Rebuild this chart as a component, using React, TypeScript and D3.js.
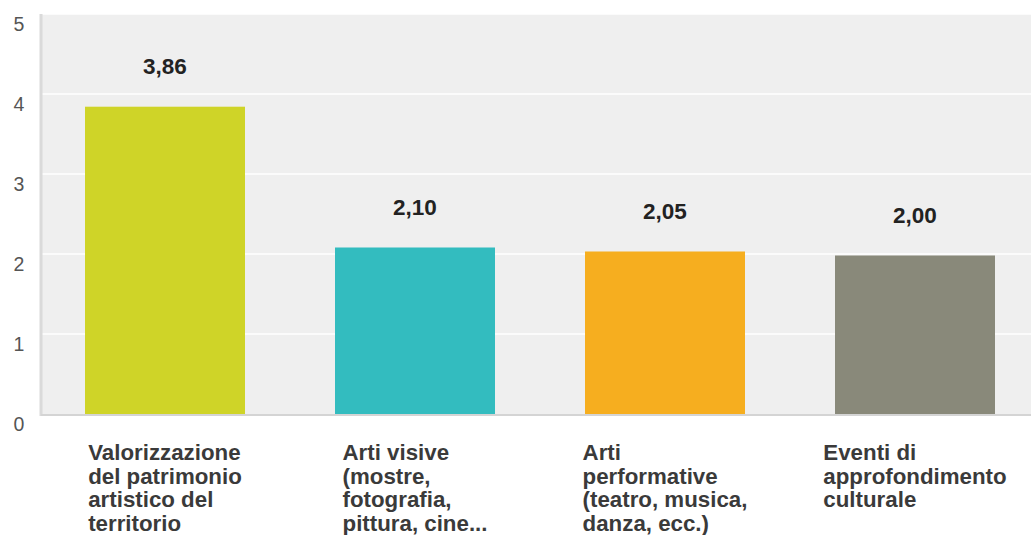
import React from "react";
import * as d3 from "d3";

const categories = [
  ["Valorizzazione", "del patrimonio", "artistico del", "territorio"],
  ["Arti visive", "(mostre,", "fotografia,", "pittura, cine..."],
  ["Arti", "performative", "(teatro, musica,", "danza, ecc.)"],
  ["Eventi di", "approfondimento", "culturale"],
];
const values = [3.86, 2.1, 2.05, 2.0];
const barColors = ["#cfd428", "#33bcbf", "#f6ae1f", "#89897a"];
const yTicks = [0, 1, 2, 3, 4, 5];

const W = 1031;
const H = 535;
const plotLeft = 41;
const plotTop = 14;
const plotBottom = 414;
const plotRight = 1040;
const font = "'Liberation Sans', Arial, sans-serif";
const labelSize = 22.3;

// width of the widest line of a wrapped category label
function blockWidth(lines: string[]): number {
  const ctx = document.createElement("canvas").getContext("2d");
  if (!ctx) return 150;
  ctx.font = `bold ${labelSize}px ${font}`;
  return d3.max(lines, (l) => ctx.measureText(l).width) ?? 0;
}

export default function App() {
  const x = d3
    .scaleBand<number>()
    .domain(values.map((_, i) => i))
    .range([plotLeft - 1, plotRight])
    .paddingInner(0.36)
    .paddingOuter(0.18);
  const y = d3.scaleLinear().domain([0, 5]).range([plotBottom, plotTop]);
  const fmt = (v: number) => d3.format(".2f")(v).replace(".", ",");
  const barShift = 1.5;

  return (
    <svg
      width={W}
      height={H}
      style={{ position: "absolute", left: 0, top: 0, display: "block" }}
      fontFamily={font}
    >
      <rect x={0} y={0} width={W} height={H} fill="#ffffff" />
      <rect
        x={plotLeft}
        y={plotTop}
        width={plotRight - plotLeft}
        height={plotBottom - plotTop}
        fill="#efefef"
      />
      {yTicks.slice(1).map((t) => (
        <line
          key={t}
          x1={plotLeft}
          x2={plotRight}
          y1={y(t)}
          y2={y(t)}
          stroke="#ffffff"
          strokeWidth={1.5}
        />
      ))}
      {values.map((v, i) => (
        <rect
          key={i}
          x={x(i)!}
          y={y(v) + barShift}
          width={x.bandwidth()}
          height={y(0) - y(v)}
          fill={barColors[i]}
        />
      ))}
      {/* axes */}
      <line x1={plotLeft} x2={plotLeft} y1={plotTop} y2={plotBottom + 2} stroke="#dadada" strokeWidth={3} />
      <line x1={plotLeft} x2={plotRight} y1={plotBottom + 1} y2={plotBottom + 1} stroke="#d4d4d4" strokeWidth={2} />
      {yTicks.map((t) => (
        <text
          key={t}
          x={19}
          y={y(t) + 17}
          textAnchor="middle"
          fontSize={19.5}
          fill="#555"
        >
          {t}
        </text>
      ))}
      {values.map((v, i) => (
        <text
          key={i}
          x={x(i)! + x.bandwidth() / 2}
          y={y(v) - 31}
          textAnchor="middle"
          fontSize={22.5}
          fontWeight="bold"
          fill="#222"
        >
          {fmt(v)}
        </text>
      ))}
      {categories.map((lines, i) => {
        const cx = x(i)! + x.bandwidth() / 2;
        const left = cx - blockWidth(lines) / 2;
        return (
          <text
            key={i}
            x={left}
            y={460}
            fontSize={labelSize}
            fontWeight="bold"
            fill="#3a3a3a"
          >
            {lines.map((l, j) => (
              <tspan key={j} x={left} dy={j === 0 ? 0 : 23.6}>
                {l}
              </tspan>
            ))}
          </text>
        );
      })}
    </svg>
  );
}
